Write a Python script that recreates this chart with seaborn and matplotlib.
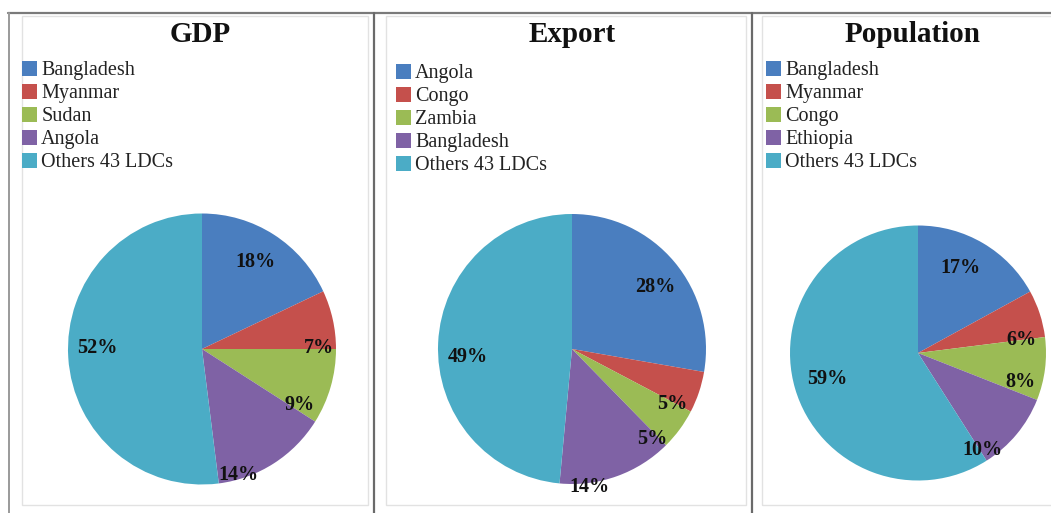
import matplotlib
matplotlib.use("Agg")
import matplotlib.pyplot as plt
import seaborn as sns
from matplotlib.lines import Line2D
from matplotlib.patches import Rectangle

# ---------------- data ----------------
gdp_labels = ["Bangladesh", "Myanmar", "Sudan", "Angola", "Others 43 LDCs"]
gdp_values = [18, 7, 9, 14, 52]

export_labels = ["Angola", "Congo", "Zambia", "Bangladesh", "Others 43 LDCs"]
export_values = [28, 5, 5, 14, 49]

pop_labels = ["Bangladesh", "Myanmar", "Congo", "Ethiopia", "Others 43 LDCs"]
pop_values = [17, 6, 8, 10, 59]

titles = ["GDP", "Export", "Population"]

# ---------------- style ----------------
sns.set_theme(style="white")
plt.rcParams["font.family"] = ["Liberation Serif", "DejaVu Serif"]
palette = sns.color_palette(["#4A7EBF", "#C5504C", "#9BBB55", "#7F62A5", "#4BACC6"])

W, H = 1051, 513
fig = plt.figure(figsize=(W / 100, H / 100), dpi=100)

# panel geometry in pixels: pie center, radii, legend anchor, title x, label placements (pie units)
panels = [
    dict(cx=202, cy=349, rx=134, ry=135.5, leg=(22, 61), tx=200,
         lab=[(0.40, 0.64), (0.87, 0.01), (0.73, -0.41), (0.27, -0.93), (-0.78, 0.01)]),
    dict(cx=572, cy=349, rx=134, ry=135, leg=(396, 64), tx=572,
         lab=[(0.62, 0.46), (0.75, -0.41), (0.60, -0.67), (0.13, -1.02), (-0.78, -0.06)]),
    dict(cx=918, cy=353, rx=128, ry=127.5, leg=(766, 61), tx=913,
         lab=[(0.33, 0.67), (0.81, 0.10), (0.80, -0.23), (0.50, -0.76), (-0.71, -0.20)]),
]
datasets = [(gdp_labels, gdp_values), (export_labels, export_values), (pop_labels, pop_values)]

# ---------------- frames ----------------
def px_line(x0, y0, x1, y1, color, lw):
    fig.add_artist(Line2D([x0 / W, x1 / W], [1 - y0 / H, 1 - y1 / H],
                          color=color, lw=lw, transform=fig.transFigure))

# inner light boxes
for (x0, x1) in [(22, 368), (386, 746), (762, 1056)]:
    fig.add_artist(Rectangle((x0 / W, 1 - 505 / H), (x1 - x0) / W, (505 - 16) / H,
                             fill=False, ec="#e2e2e2", lw=1.0, transform=fig.transFigure))
# outer dark frame
px_line(8, 13, 1051, 13, "#7a7a7a", 1.6)
px_line(9, 13, 9, 513, "#9a9a9a", 1.4)
px_line(374, 13, 374, 513, "#6a6a6a", 1.6)
px_line(752, 13, 752, 513, "#6a6a6a", 1.6)

# ---------------- pies ----------------
for p, (labels, values), title in zip(panels, datasets, titles):
    ax = fig.add_axes([(p["cx"] - p["rx"]) / W, (H - p["cy"] - p["ry"]) / H,
                       2 * p["rx"] / W, 2 * p["ry"] / H])
    wedges, _ = ax.pie(values, colors=palette, startangle=90, counterclock=False,
                       radius=1, wedgeprops=dict(linewidth=0), normalize=True)
    ax.set_aspect("auto")
    ax.set_xlim(-1, 1)
    ax.set_ylim(-1, 1)
    ax.axis("off")
    for v, (lx, ly) in zip(values, p["lab"]):
        ax.text(lx, ly, f"{v}%", ha="center", va="center", fontsize=14.5,
                fontweight="bold", color="#111111")
    fig.text(p["tx"] / W, 1 - 34 / H, title, ha="center", va="center",
             fontsize=21, fontweight="bold", color="#111111")
    fig.legend(wedges, labels, loc="upper left",
               bbox_to_anchor=(p["leg"][0] / W, 1 - p["leg"][1] / H),
               frameon=False, fontsize=14.5, handlelength=0.75, handleheight=0.75,
               handletextpad=0.2, labelspacing=0.18, borderpad=0, borderaxespad=0,
               labelcolor="#222222")

fig.savefig("out.png", dpi=100, facecolor="white")
